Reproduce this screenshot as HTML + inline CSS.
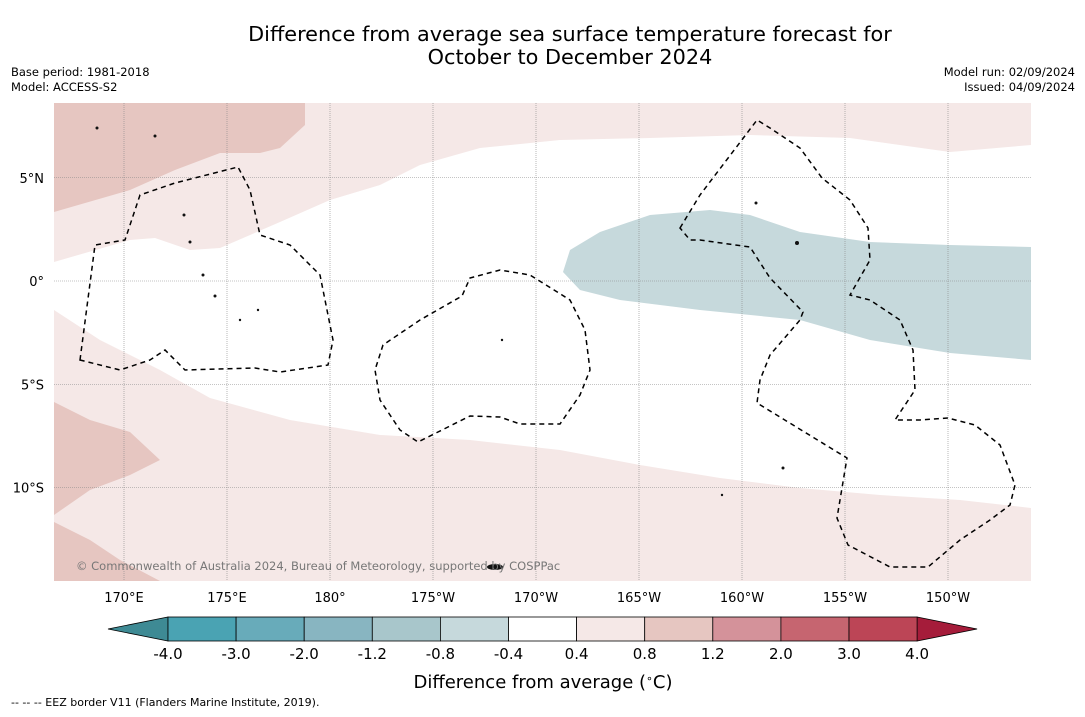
<!DOCTYPE html>
<html><head><meta charset="utf-8"><style>
body{margin:0;background:#fff;width:1085px;height:713px;overflow:hidden;font-family:"DejaVu Sans",sans-serif}
svg text{font-family:"DejaVu Sans","Liberation Sans",sans-serif}
</style></head><body>
<svg id="c" width="1085" height="713" viewBox="0 0 1085 713">
<text x="570" y="41" font-size="20.8" text-anchor="middle">Difference from average sea surface temperature forecast for</text>
<text x="570" y="64" font-size="20.8" text-anchor="middle">October to December 2024</text>
<text x="11" y="76" font-size="11.5">Base period: 1981-2018</text>
<text x="11" y="91" font-size="11.5">Model: ACCESS-S2</text>
<text x="1075" y="76" font-size="11.5" text-anchor="end">Model run: 02/09/2024</text>
<text x="1075" y="91" font-size="11.5" text-anchor="end">Issued: 04/09/2024</text>
<g>
<rect x="54" y="103" width="977" height="478" fill="#fff"/>
<path fill="#f5e8e7" d="M54,103 L1031,103 L1031,145 L950,152 L850,138 L750,135 L650,138 L560,140 L480,148 L420,165 L380,185 L330,200 L280,222 L220,248 L190,250 L155,238 L130,240 L54,262 Z"/>
<path fill="#e6c6c1" d="M54,103 L305,103 L305,125 L280,148 L260,153 L220,153 L175,170 L130,190 L54,212 Z"/>
<path fill="#c6d9dc" d="M570,250 L600,232 L650,215 L710,210 L750,215 L800,232 L870,242 L950,245 L1031,247 L1031,360 L950,353 L870,340 L800,320 L700,310 L620,300 L580,290 L563,272 Z"/>
<path fill="#f5e8e7" d="M54,310 L100,340 L160,370 L210,398 L290,420 L380,435 L470,440 L560,450 L640,465 L720,478 L800,488 L880,495 L960,500 L1031,508 L1031,581 L54,581 Z"/>
<path fill="#e6c6c1" d="M54,402 L90,420 L130,432 L160,460 L130,475 L90,490 L54,515 Z"/>
<path fill="#e6c6c1" d="M54,522 L90,540 L120,560 L160,581 L54,581 Z"/>
<g id="grid" stroke="#888" stroke-width="0.6" stroke-dasharray="1,1"></g>
<g fill="none" stroke="#000" stroke-width="1.5" stroke-dasharray="5,4">
<path d="M80,360 L95,245 L125,240 L140,195 L175,183 L238,167 L250,190 L260,235 L290,245 L320,275 L330,325 L333,340 L328,365 L280,372 L255,368 L185,370 L165,350 L150,360 L120,370 Z"/>
<path d="M383,345 L375,370 L380,400 L400,430 L418,442 L470,416 L500,417 L520,424 L560,424 L580,395 L590,370 L585,330 L570,300 L530,275 L500,270 L470,278 L462,296 L420,320 Z"/>
<path d="M680,228 L700,195 L757,120 L770,128 L800,148 L822,178 L850,200 L868,228 L870,260 L850,295 L870,300 L900,320 L913,350 L915,390 L895,420 L920,420 L948,418 L975,425 L1000,445 L1015,485 L1010,505 L990,520 L960,540 L928,567 L890,567 L848,545 L837,518 L847,458 L757,403 L760,380 L770,355 L800,320 L803,312 L770,278 L750,247 L700,240 L690,240 Z"/>
</g>
<g fill="#111">
<circle cx="184" cy="215" r="1.5"/><circle cx="190" cy="242" r="1.5"/><circle cx="203" cy="275" r="1.5"/><circle cx="215" cy="296" r="1.5"/><circle cx="240" cy="320" r="1.2"/><circle cx="258" cy="310" r="1.2"/><circle cx="756" cy="203" r="1.5"/><circle cx="797" cy="243" r="2"/><circle cx="502" cy="340" r="1.2"/><circle cx="783" cy="468" r="1.5"/><circle cx="722" cy="495" r="1.2"/><ellipse cx="495" cy="567" rx="8" ry="3"/><circle cx="155" cy="136" r="1.5"/><circle cx="97" cy="128" r="1.5"/>
</g>
<text x="76" y="570" font-size="11.5" fill="#777">© Commonwealth of Australia 2024, Bureau of Meteorology, supported by COSPPac</text>
</g>
<g id="axes"></g>
<g id="cbar"></g>
<text x="543" y="688" font-size="18" text-anchor="middle">Difference from average (<tspan font-size="11" dy="-6">∘</tspan><tspan dy="6">C)</tspan></text>
<text x="11" y="706" font-size="11">--  --  -- EEZ border V11 (Flanders Marine Institute, 2019).</text>
</svg>
<script>
const lonTicks=[170,175,180,185,190,195,200,205,210];
const lonLabels=["170°E","175°E","180°","175°W","170°W","165°W","160°W","155°W","150°W"];
const latTicks=[5,0,-5,-10];
const latLabels=["5°N","0°","5°S","10°S"];
const cbLevels=["-4.0","-3.0","-2.0","-1.2","-0.8","-0.4","0.4","0.8","1.2","2.0","3.0","4.0"];
const cbColors=["#4aa3b3","#68abba","#88b5c1","#a8c6cb","#c6d9dc","#ffffff","#f5e8e7","#e6c6c1","#d4929a","#c66570","#bc4556"];
const NS="http://www.w3.org/2000/svg";
const xLon=l=>124+(l-170)*20.6;
const yLat=l=>281-l*20.65;
const grid=document.getElementById('grid'),axes=document.getElementById('axes'),cb=document.getElementById('cbar');
function mk(tag,a,p){const e=document.createElementNS(NS,tag);for(const k in a)e.setAttribute(k,a[k]);p.appendChild(e);return e;}
lonTicks.forEach((l,i)=>{
 const x=xLon(l);
 const g=mk('line',{x1:x,x2:x,y1:103,y2:581},grid);
 
 
 const t=mk('text',{x:x,y:602,'font-size':13,'text-anchor':'middle'},axes);t.textContent=lonLabels[i];
 
 
});
latTicks.forEach((l,i)=>{
 const y=yLat(l);
 const g=mk('line',{x1:54,x2:1031,y1:y,y2:y},grid);
 
 
 const t=mk('text',{x:44,y:y+5,'font-size':13,'text-anchor':'end'},axes);t.textContent=latLabels[i];
 
 
});
const cx0=168,cw=68.1,cy=617,ch=24;
const lt=mk('polygon',{points:`108,629 ${cx0},${cy} ${cx0},${cy+ch}`,fill:'#3e8a94',stroke:'#000','stroke-width':0.8},cb);


const xe=cx0+cw*cbColors.length;
const rt=mk('polygon',{points:`${xe},${cy} ${xe+60},629 ${xe},${cy+ch}`,fill:'#a51c3a',stroke:'#000','stroke-width':0.8},cb);


cbColors.forEach((c,i)=>{
 const r=mk('rect',{x:cx0+i*cw,y:cy,width:cw,height:ch,fill:c,stroke:'#000','stroke-width':0.8},cb);
 
 
});
cbLevels.forEach((v,i)=>{
 const t=mk('text',{x:cx0+i*cw,y:659,'font-size':15,'text-anchor':'middle'},cb);t.textContent=v;
 
 
});
</script>
</body></html>
